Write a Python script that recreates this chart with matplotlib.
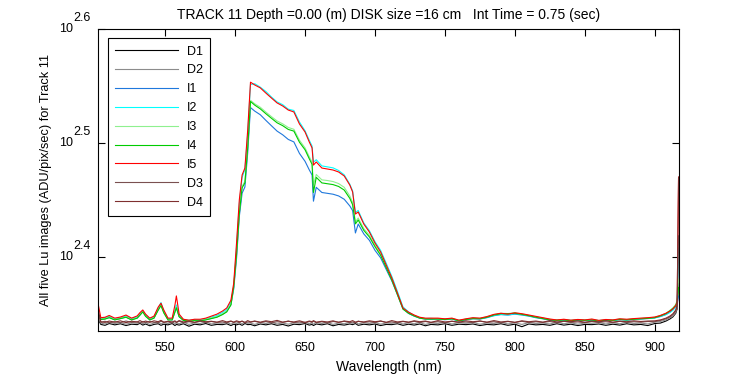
import numpy as np
import matplotlib
matplotlib.use('Agg')
import matplotlib.pyplot as plt

plt.rcParams['font.family'] = ['Liberation Sans', 'DejaVu Sans']

# Data
wl = [502, 504, 507, 510, 514, 518, 522, 526, 530, 532,
      534, 536, 539, 542, 545, 547, 549, 552, 555, 557,
      558, 560, 563, 567, 571, 575, 579, 583, 587, 591,
      594, 597, 599, 601, 603, 605, 607, 609, 611, 614,
      618, 622, 626, 630, 634, 638, 642, 646, 650, 653,
      655, 656, 658, 662, 666, 670, 674, 678, 682, 684,
      686, 688, 692, 696, 700, 704, 708, 712, 716, 720,
      724, 728, 732, 736, 740, 745, 750, 755, 760, 765,
      770, 775, 780, 785, 790, 795, 800, 805, 810, 815,
      820, 825, 830, 835, 840, 845, 850, 855, 860, 865,
      870, 875, 880, 885, 890, 895, 900, 904, 908, 911,
      913, 915, 916, 917]

d1 = [221.5, 219.0, 218.6, 219.4, 218.8, 219.3, 218.5, 219.1, 218.9, 219.5,
      218.7, 219.2, 218.4, 219.0, 219.3, 218.6, 219.1, 218.8, 219.4, 218.5,
      219.0, 218.7, 219.3, 218.2, 219.1, 218.8, 219.4, 218.6, 219.0, 218.9,
      219.3, 218.5, 219.1, 218.8, 219.2, 218.6, 219.4, 218.9, 219.0, 218.4,
      219.2, 218.8, 219.3, 218.6, 219.0, 218.3, 219.1, 218.9, 219.4, 218.7,
      219.0, 218.5, 219.2, 218.8, 219.3, 218.4, 219.0, 218.7, 219.2, 218.9,
      219.4, 218.6, 219.1, 218.8, 219.2, 218.5, 219.0, 218.9, 219.3, 218.6,
      219.1, 218.7, 219.2, 218.4, 219.0, 218.8, 219.3, 218.6, 219.1, 218.9,
      219.2, 218.5, 219.0, 218.8, 219.3, 218.6, 219.1, 218.0, 219.2, 218.8,
      219.0, 218.6, 219.3, 218.7, 219.1, 218.5, 219.0, 218.9, 219.2, 218.6,
      219.1, 218.7, 219.3, 218.8, 219.0, 218.5, 219.4, 219.6, 220.5, 221.5,
      222.4, 224.0, 226.0, 238.0]

d2 = [222.0, 219.6, 219.2, 219.9, 219.4, 219.8, 219.1, 219.7, 219.5, 220.0,
      219.3, 219.8, 219.0, 219.6, 219.9, 219.2, 219.7, 219.4, 220.0, 219.1,
      219.6, 219.3, 219.9, 219.0, 219.7, 219.4, 220.0, 219.2, 219.6, 219.5,
      219.9, 219.1, 219.7, 219.4, 219.8, 219.2, 220.0, 219.5, 219.6, 219.0,
      219.8, 219.4, 219.9, 219.2, 219.6, 219.1, 219.7, 219.5, 220.0, 219.3,
      219.6, 219.1, 219.8, 219.4, 219.9, 219.0, 219.6, 219.3, 219.8, 219.5,
      220.0, 219.2, 219.7, 219.4, 219.8, 219.1, 219.6, 219.5, 219.9, 219.2,
      219.7, 219.3, 219.8, 219.0, 219.6, 219.4, 219.9, 219.2, 219.7, 219.5,
      219.8, 219.1, 219.6, 219.4, 219.9, 219.2, 219.7, 219.0, 219.8, 219.4,
      219.6, 219.2, 219.9, 219.3, 219.7, 219.1, 219.6, 219.5, 219.8, 219.2,
      219.7, 219.3, 219.9, 219.4, 219.6, 219.2, 220.0, 220.3, 221.0, 222.0,
      222.8, 224.4, 226.5, 250.0]

i1 = [223.0, 221.3, 221.5, 222.1, 221.1, 221.6, 222.3, 221.1, 221.9, 223.2,
      224.8, 222.8, 221.1, 221.9, 225.6, 228.0, 224.6, 221.2, 221.0, 224.8,
      226.6, 222.5, 220.9, 220.5, 220.8, 220.7, 221.1, 221.7, 222.4, 223.6,
      224.9, 227.9, 235.3, 250.0, 272.4, 285.6, 289.2, 309.9, 339.6, 337.2,
      334.7, 330.9, 327.3, 323.8, 321.4, 318.4, 316.8, 309.5, 304.6, 299.4,
      296.3, 281.0, 289.0, 286.0, 285.5, 285.0, 284.0, 282.1, 278.3, 275.7,
      263.5, 268.3, 263.0, 259.6, 254.4, 250.6, 244.8, 239.2, 232.6, 226.0,
      223.9, 222.7, 221.8, 221.4, 221.3, 221.4, 221.1, 221.4, 220.5, 221.1,
      221.5, 221.4, 222.0, 222.9, 223.4, 223.2, 223.6, 223.2, 222.7, 222.0,
      221.5, 220.9, 220.6, 220.9, 220.5, 220.8, 220.6, 220.9, 220.4, 220.8,
      220.7, 221.1, 220.9, 221.2, 221.4, 221.6, 221.9, 222.5, 223.4, 224.6,
      225.6, 227.0, 228.6, 232.0]

i2 = [223.5, 221.6, 222.0, 222.6, 221.5, 222.0, 222.8, 221.6, 222.4, 223.8,
      225.2, 223.2, 221.6, 222.4, 226.2, 228.9, 225.0, 221.6, 221.5, 225.5,
      227.8, 223.0, 221.2, 220.8, 221.2, 221.1, 221.5, 222.3, 223.0, 224.4,
      225.8, 229.2, 236.5, 255.8, 279.5, 294.8, 299.6, 322.0, 355.8, 356.4,
      353.9, 350.8, 346.9, 343.5, 341.6, 338.5, 337.6, 329.8, 324.0, 317.9,
      314.2, 304.0, 305.6, 301.8, 301.2, 300.6, 299.0, 296.4, 290.8, 286.9,
      274.6, 275.8, 268.9, 264.7, 258.9, 254.4, 247.9, 241.4, 234.2, 226.9,
      224.6, 223.0, 222.0, 221.6, 221.7, 221.5, 221.4, 221.6, 220.8, 221.3,
      221.8, 221.6, 222.2, 223.0, 223.5, 223.2, 223.8, 223.4, 222.9, 222.3,
      221.8, 221.2, 220.9, 221.1, 220.8, 221.0, 220.9, 221.2, 220.7, 221.0,
      220.9, 221.3, 221.1, 221.4, 221.6, 221.8, 222.0, 222.6, 223.5, 224.4,
      225.4, 226.8, 228.0, 255.6]

i3 = [223.2, 221.4, 221.6, 222.2, 221.2, 221.8, 222.4, 221.2, 222.0, 223.4,
      224.8, 222.8, 221.2, 222.0, 225.6, 227.8, 224.4, 221.2, 221.2, 224.8,
      226.8, 222.6, 221.0, 220.6, 220.9, 220.8, 221.2, 221.9, 222.5, 223.8,
      225.0, 228.2, 236.8, 253.2, 275.2, 289.6, 292.6, 314.2, 344.6, 342.2,
      339.8, 336.5, 333.4, 330.5, 328.6, 326.2, 325.0, 317.9, 313.0, 307.5,
      304.0, 290.5, 296.6, 293.4, 293.0, 292.4, 291.2, 289.0, 284.0, 280.3,
      269.5, 271.6, 265.8, 262.3, 257.0, 252.5, 246.2, 240.0, 233.0, 226.1,
      224.2, 223.0, 222.0, 221.6, 221.6, 221.6, 221.4, 221.7, 220.8, 221.4,
      221.8, 221.7, 222.4, 223.4, 224.0, 223.9, 224.2, 223.7, 223.1, 222.4,
      221.8, 221.2, 221.0, 221.2, 220.8, 221.2, 221.0, 221.2, 220.7, 221.1,
      221.0, 221.4, 221.2, 221.5, 221.7, 221.9, 222.2, 223.0, 224.0, 225.4,
      226.5, 228.0, 230.0, 240.0]

i4 = [223.0, 221.2, 221.4, 222.0, 221.0, 221.6, 222.2, 221.0, 221.8, 223.2,
      224.6, 222.6, 221.0, 221.8, 225.4, 227.5, 224.2, 221.0, 221.0, 224.6,
      226.5, 222.4, 220.8, 220.4, 220.7, 220.6, 221.0, 221.6, 222.2, 223.4,
      224.6, 227.8, 236.2, 252.0, 274.0, 288.7, 291.6, 313.0, 343.8, 341.3,
      338.7, 335.4, 332.3, 329.3, 327.4, 324.9, 323.8, 316.6, 311.8, 306.2,
      302.8, 286.0, 294.9, 291.6, 291.1, 290.6, 289.5, 287.4, 282.6, 279.0,
      268.4, 270.5, 264.9, 261.4, 256.3, 251.9, 245.7, 239.6, 232.7, 225.9,
      224.0, 222.8, 221.8, 221.4, 221.4, 221.4, 221.2, 221.5, 220.6, 221.2,
      221.6, 221.5, 222.2, 223.2, 223.8, 223.8, 224.0, 223.5, 222.9, 222.2,
      221.6, 221.0, 220.8, 221.0, 220.6, 221.0, 220.8, 221.0, 220.5, 220.9,
      220.8, 221.2, 221.0, 221.3, 221.5, 221.7, 222.0, 222.8, 223.8, 225.2,
      226.2, 227.6, 229.5, 236.0]

i5 = [228.5, 222.0, 222.2, 223.0, 221.8, 222.3, 223.2, 221.8, 222.8, 224.3,
      225.5, 223.6, 221.8, 222.7, 226.8, 228.6, 225.5, 221.8, 221.8, 227.8,
      232.0, 223.6, 221.3, 220.9, 221.3, 221.3, 221.8, 222.7, 223.6, 225.0,
      226.4, 230.0, 238.0, 258.0, 281.7, 296.3, 300.5, 324.5, 357.5, 355.5,
      353.4, 349.7, 346.2, 342.8, 340.7, 337.9, 336.6, 328.5, 323.2, 316.8,
      313.0, 302.3, 304.2, 300.5, 299.9, 299.3, 298.1, 295.7, 290.3, 286.3,
      273.8, 274.9, 268.3, 264.0, 258.2, 253.6, 247.0, 240.6, 233.4, 226.4,
      224.5, 223.2, 222.2, 221.8, 221.8, 221.8, 221.5, 221.8, 220.9, 221.5,
      222.0, 221.8, 222.5, 223.5, 224.0, 223.6, 224.2, 223.8, 223.2, 222.6,
      222.0, 221.4, 221.0, 221.3, 220.9, 221.2, 221.0, 221.4, 220.8, 221.2,
      221.0, 221.5, 221.3, 221.6, 221.8, 222.0, 222.3, 223.0, 224.0, 225.0,
      226.0, 227.5, 229.0, 295.0]

d3 = [224.0, 219.9, 220.4, 219.7, 220.2, 219.8, 220.5, 219.9, 220.1, 219.6,
      220.3, 219.8, 220.4, 219.9, 219.7, 220.4, 219.9, 220.2, 219.6, 220.3,
      219.8, 220.5, 219.7, 220.2, 219.9, 220.4, 219.8, 220.3, 219.9, 220.1,
      219.7, 220.4, 219.9, 220.2, 219.8, 220.5, 219.7, 220.1, 220.0, 220.4,
      219.8, 220.3, 219.7, 220.2, 219.9, 220.5, 219.8, 220.1, 219.7, 220.3,
      219.9, 220.4, 219.8, 220.2, 219.6, 220.3, 220.0, 220.4, 219.8, 220.1,
      219.7, 220.4, 219.9, 220.2, 219.8, 220.5, 219.9, 220.1, 219.7, 220.3,
      219.9, 220.4, 219.8, 220.3, 219.9, 220.2, 219.7, 220.4, 219.9, 220.1,
      219.8, 220.5, 219.9, 220.2, 219.7, 220.3, 219.9, 220.4, 219.8, 220.2,
      219.9, 220.3, 219.7, 220.4, 219.9, 220.1, 219.8, 220.3, 219.9, 220.2,
      219.8, 220.4, 219.9, 220.2, 220.0, 220.3, 220.2, 220.8, 221.5, 222.4,
      223.4, 225.0, 227.0, 262.0]

d4 = [226.0, 220.2, 219.9, 220.5, 220.0, 220.6, 219.8, 220.4, 220.1, 220.7,
      220.0, 220.5, 219.9, 220.6, 220.2, 220.8, 220.0, 220.4, 220.1, 220.6,
      220.0, 220.7, 220.1, 220.5, 219.9, 220.6, 220.2, 220.4, 220.0, 220.7,
      220.1, 220.5, 220.0, 220.6, 220.2, 220.4, 219.9, 220.7, 220.1, 220.5,
      220.0, 220.6, 220.2, 220.8, 220.0, 220.4, 220.1, 220.6, 219.9, 220.5,
      220.2, 220.7, 220.0, 220.4, 220.1, 220.6, 219.9, 220.5, 220.2, 220.7,
      220.0, 220.4, 220.1, 220.6, 220.2, 220.5, 219.9, 220.7, 220.1, 220.4,
      220.0, 220.6, 220.2, 220.5, 219.9, 220.7, 220.1, 220.4, 220.0, 220.6,
      220.2, 220.5, 220.0, 220.7, 220.1, 220.4, 219.9, 220.6, 220.2, 220.5,
      220.0, 220.7, 220.1, 220.4, 220.2, 220.6, 219.9, 220.5, 220.1, 220.7,
      220.0, 220.4, 220.2, 220.6, 220.3, 220.5, 220.6, 221.0, 221.8, 222.8,
      223.8, 225.5, 227.8, 295.0]

names = ['D1', 'D2', 'I1', 'I2', 'I3', 'I4', 'I5', 'D3', 'D4']
series = [d1, d2, i1, i2, i3, i4, i5, d3, d4]
colors = ['#000000', '#8c8c8c', '#1f78dc', '#00ffff', '#8ff08f',
          '#00cc00', '#ff0000', '#7a5050', '#7f2f2f']

ytick_exp = ['2.4', '2.5', '2.6']

fig = plt.figure(figsize=(7.5, 3.75), dpi=100)
ax = fig.add_axes([0.1307, 0.1173, 0.7746, 0.8054])

for name, vals, col in zip(names, series, colors):
    ax.plot(wl, vals, color=col, linewidth=0.8, label=name)

ax.set_yscale('log')
ax.set_xlim(502, 917.3)
ax.set_ylim(216.1, 398.1)
ax.set_xticks([550, 600, 650, 700, 750, 800, 850, 900])
ax.set_yticks([10 ** float(e) for e in ytick_exp])
ax.set_yticklabels([])
ax.yaxis.set_minor_locator(matplotlib.ticker.NullLocator())
ax.yaxis.set_minor_formatter(matplotlib.ticker.NullFormatter())
ax.tick_params(direction='in', top=True, right=True, length=5,
               width=0.8, labelsize=9)
ax.tick_params(axis='x', pad=8)
for sp in ax.spines.values():
    sp.set_linewidth(0.8)

# MATLAB style "10" with raised exponent
for e in ytick_exp:
    yv = 10 ** float(e)
    ax.annotate('10', xy=(0, yv), xycoords=('axes fraction', 'data'),
                xytext=(-25, 0), textcoords='offset pixels',
                ha='right', va='center', fontsize=9)
    ax.annotate(e, xy=(0, yv), xycoords=('axes fraction', 'data'),
                xytext=(-25, 11), textcoords='offset pixels',
                ha='left', va='center', fontsize=9)

ax.set_xlabel('Wavelength (nm)', fontsize=10)
ax.xaxis.set_label_coords(0.5, -28.5 / 302)
ax.set_ylabel('All five Lu images (ADU/pix/sec) for Track 11', fontsize=9.2)
ax.yaxis.set_label_coords(-46 / 581, 0.5)
ax.set_title('TRACK 11 Depth =0.00 (m) DISK size =16 cm   Int Time = 0.75 (sec)',
             fontsize=10, pad=7)

leg = ax.legend(loc='upper left', bbox_to_anchor=(0.017, 0.97),
                fontsize=9, handlelength=5.0, handletextpad=0.7,
                labelspacing=0.55, borderpad=0.6, fancybox=False,
                framealpha=1, borderaxespad=0)
leg.get_frame().set_edgecolor('black')
leg.get_frame().set_linewidth(0.8)

fig.savefig('out.png', dpi=100)
